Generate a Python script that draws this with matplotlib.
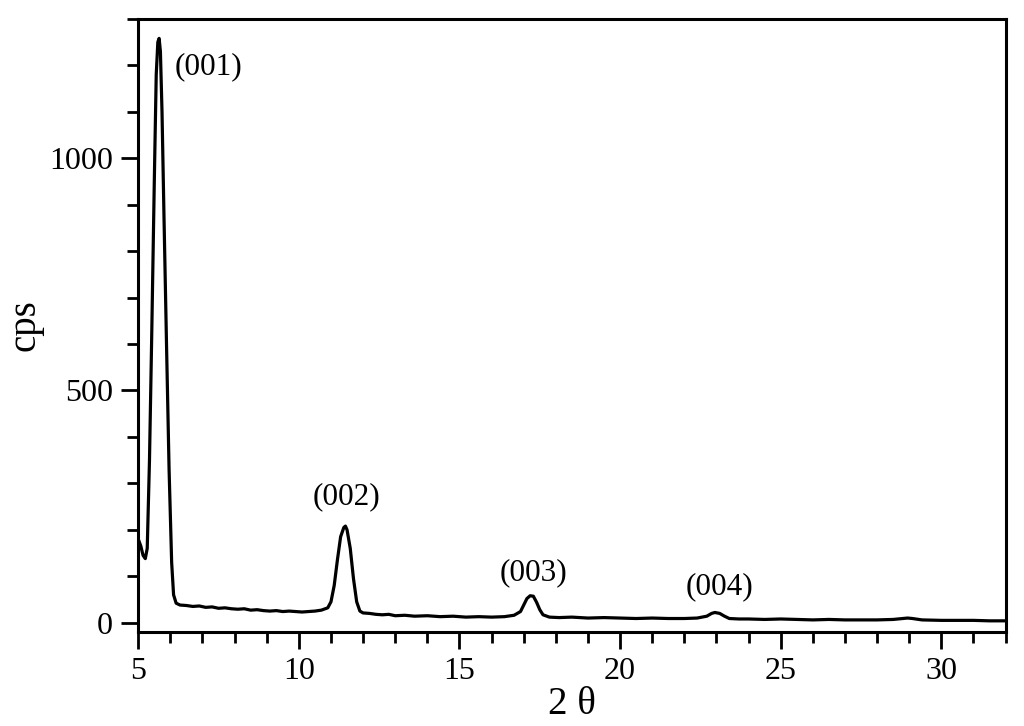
import matplotlib
matplotlib.use('Agg')
import matplotlib.pyplot as plt
from matplotlib.ticker import MultipleLocator

# XRD pattern (2 theta, cps)
two_theta = [5.00, 5.08, 5.15, 5.22, 5.28, 5.35, 5.42, 5.50, 5.56, 5.61,
             5.65, 5.69, 5.74, 5.80, 5.88, 5.96, 6.04, 6.10, 6.18, 6.30,
             6.50, 6.70, 6.90, 7.10, 7.30, 7.50, 7.70, 7.90, 8.10, 8.30,
             8.50, 8.70, 8.90, 9.10, 9.30, 9.50, 9.70, 9.90, 10.10, 10.30,
             10.50, 10.70, 10.90, 11.00, 11.10, 11.20, 11.30, 11.40, 11.45, 11.50,
             11.60, 11.70, 11.80, 11.90, 12.00, 12.20, 12.40, 12.60, 12.80, 13.00,
             13.30, 13.60, 14.00, 14.40, 14.80, 15.20, 15.60, 16.00, 16.40, 16.70,
             16.90, 17.00, 17.10, 17.20, 17.30, 17.40, 17.50, 17.60, 17.80, 18.10,
             18.50, 19.00, 19.50, 20.00, 20.50, 21.00, 21.50, 22.00, 22.40, 22.70,
             22.85, 22.95, 23.10, 23.25, 23.40, 23.70, 24.00, 24.50, 25.00, 25.50,
             26.00, 26.50, 27.00, 27.50, 28.00, 28.50, 28.80, 28.95, 29.10, 29.40,
             30.00, 30.50, 31.00, 31.50, 32.00]
cps = [180, 165, 145, 138, 160, 350, 620, 950, 1180, 1250,
       1258, 1230, 1100, 880, 600, 330, 130, 60, 42, 38,
       37, 35, 36, 33, 34, 31, 32, 30, 29, 30,
       27, 28, 26, 25, 26, 24, 25, 24, 23, 24,
       25, 27, 32, 45, 80, 135, 185, 205, 208, 200,
       160, 95, 45, 25, 21, 20, 18, 17, 18, 15,
       16, 14, 15, 13, 14, 12, 13, 12, 13, 16,
       24, 38, 52, 58, 57, 44, 28, 17, 12, 11,
       12, 10, 11, 10, 9, 10, 9, 9, 10, 14,
       20, 22, 20, 14, 9, 8, 8, 7, 8, 7,
       6, 7, 6, 6, 6, 7, 9, 10, 9, 6,
       5, 5, 5, 4, 4]

peak_labels = ['(001)', '(002)', '(003)', '(004)']
label_x = [7.2, 11.48, 17.3, 23.1]
label_y = [1198, 271, 108, 77]

plt.rcParams['font.family'] = ['Liberation Serif', 'DejaVu Serif']

fig = plt.figure(figsize=(10.24, 7.26), dpi=100)
ax = fig.add_axes([0.135, 0.1295, 0.847, 0.8445])

ax.plot(two_theta, cps, color='black', linewidth=2.3)

for lbl, lx, ly in zip(peak_labels, label_x, label_y):
    ax.text(lx, ly, lbl, fontsize=22.5, ha='center', va='center')

ax.set_xlim(5, 32)
ax.set_ylim(-20, 1300)
ax.xaxis.set_major_locator(MultipleLocator(5))
ax.xaxis.set_minor_locator(MultipleLocator(1))
ax.yaxis.set_major_locator(MultipleLocator(500))
ax.yaxis.set_minor_locator(MultipleLocator(100))

ax.tick_params(which='both', direction='out', width=2, labelsize=23,
               top=False, right=False)
ax.tick_params(which='major', length=12, pad=6)
ax.tick_params(which='minor', length=8)
for sp in ax.spines.values():
    sp.set_linewidth(2.2)

ax.set_xlabel('2 θ', fontsize=28, labelpad=0)
ax.set_ylabel('cps', fontsize=28, labelpad=4)

fig.savefig('out.png', dpi=100)
plt.close(fig)
